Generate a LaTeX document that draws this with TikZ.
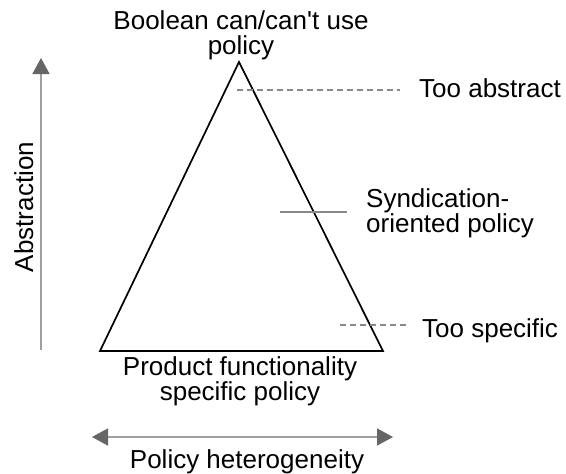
\documentclass[tikz,border=0pt]{standalone}
\usepackage{fontspec}
\setmainfont{Liberation Sans}[Ligatures=TeXOff]
\usetikzlibrary{arrows.meta}
\definecolor{axisgray}{HTML}{A0A0A0}
\definecolor{tipgray}{HTML}{666666}
\definecolor{dashgray}{HTML}{888888}
\begin{document}
\begin{tikzpicture}[x=1pt,y=-1pt,
  lbl/.style={font=\fontsize{26}{25}\selectfont, inner sep=0pt, align=center},
  axisline/.style={draw=axisgray, line width=1.6pt},
  axistip/.tip={Triangle[length=16pt,width=17pt,fill=tipgray,color=tipgray]},
  guide/.style={draw=dashgray, line width=1.5pt, dash pattern=on 6pt off 4pt},
  marker/.style={draw=dashgray, line width=1.8pt},
  pyramid/.style={draw=black, line width=1.7pt, line join=miter}
]
\useasboundingbox (0,0) rectangle (566,474);

% pyramid corners
\coordinate (apex) at (239,62);
\coordinate (bl) at (100,351);
\coordinate (br) at (383,351);
\draw[pyramid] (apex) -- (br) -- (bl) -- cycle;

% axes
\coordinate (vlow) at (41,350);
\coordinate (vhigh) at (41,58);
\draw[axisline, -axistip] (vlow) -- (vhigh);
\coordinate (hleft) at (92,437);
\coordinate (hright) at (393,437);
\draw[axisline, axistip-axistip] (hleft) -- (hright);

% labels (multi-line nodes sit on the baseline of their last line)
\node[lbl, anchor=base] (top) at (241,54) {Boolean can/can't use\\policy};
\node[lbl, anchor=base] (bottom) at (240,400) {Product functionality\\specific policy};
\node[lbl, anchor=base] (hetero) at (247,468) {Policy heterogeneity};
\node[lbl, anchor=base, rotate=90] (abstr) at (33,207) {Abstraction};

\node[lbl, anchor=base west] (abstract) at (419,97) {Too abstract};
\node[lbl, anchor=base west, align=left] (synd) at (366,232) {Syndication-\\oriented policy};
\node[lbl, anchor=base west] (specific) at (422,337) {Too specific};

% level markers
\coordinate (ta0) at (237,90);
\coordinate (ta1) at (400,90);
\draw[guide] (ta0) -- (ta1);
\coordinate (sy0) at (280,212);
\coordinate (sy1) at (347,212);
\draw[marker] (sy0) -- (sy1);
\coordinate (ts0) at (340,325);
\coordinate (ts1) at (410,325);
\draw[guide] (ts0) -- (ts1);
\end{tikzpicture}
\end{document}
